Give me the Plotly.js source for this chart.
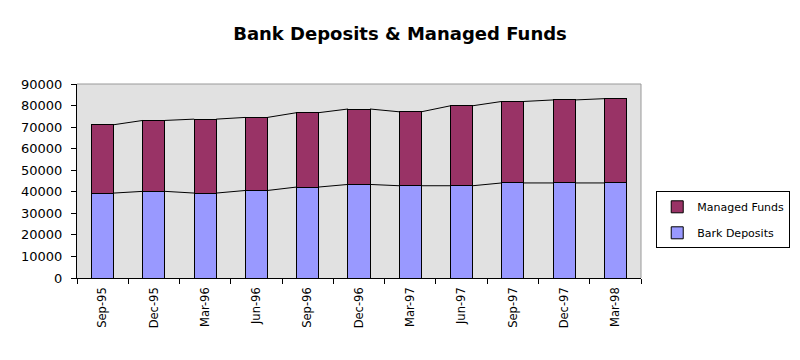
<!DOCTYPE html>
<html>
<head>
<meta charset="utf-8">
<script src="https://cdn.plot.ly/plotly-3.0.1.min.js"></script>
<style>html,body{margin:0;padding:0;background:#fff;}#chart{width:800px;height:360px;}</style>
</head>
<body>
<div id="chart"></div>
<script>
var categories = ["Sep-95","Dec-95","Mar-96","Jun-96","Sep-96","Dec-96","Mar-97","Jun-97","Sep-97","Dec-97","Mar-98"];
var bankDeposits = [39400, 40200, 39400, 40600, 42200, 43400, 42800, 42800, 44100, 44100, 44100];
var managedFunds = [31700, 32900, 34300, 33900, 34500, 35000, 34300, 37100, 37800, 38500, 39100];
var yTicks = [0,10000,20000,30000,40000,50000,60000,70000,80000,90000];

var barWidth = 0.43;
var idx = categories.map(function(_, i){ return i; });
var totals = bankDeposits.map(function(v, i){ return v + managedFunds[i]; });

function seriesLine(vals){
  var xs = [], ys = [];
  for (var i = 0; i < vals.length - 1; i++) {
    xs.push(i + barWidth/2, i + 1 - barWidth/2, null);
    ys.push(vals[i], vals[i+1], null);
  }
  return {x: xs, y: ys, type: 'scatter', mode: 'lines', line: {color: '#000', width: 1},
          showlegend: false, hoverinfo: 'skip', connectgaps: false};
}

var traces = [
  {x: idx, y: bankDeposits, type: 'bar', name: 'Bark Deposits', width: barWidth, legendgroup: 'b', legendrank: 2,
   marker: {color: '#9999FF', line: {color: '#000', width: 1}}},
  {x: idx, y: managedFunds, type: 'bar', name: 'Managed Funds', width: barWidth, legendgroup: 'm', legendrank: 1,
   marker: {color: '#993366', line: {color: '#000', width: 1}}},
  seriesLine(bankDeposits),
  seriesLine(totals),
  {x: [-0.5, 10.5], y: [null, null], xaxis: 'x2', type: 'scatter', mode: 'lines', showlegend: false, hoverinfo: 'skip'}
];

var boundaries = [];
for (var b = 0; b <= categories.length; b++) boundaries.push(b - 0.5);

var FONT = 'DejaVu Sans, Verdana, sans-serif';

var layout = {
  width: 800, height: 360,
  margin: {l: 77, r: 159, t: 84, b: 82, autoexpand: false},
  paper_bgcolor: '#fff',
  plot_bgcolor: '#E1E1E1',
  barmode: 'stack',
  font: {family: FONT, color: '#000', size: 11},
  title: {text: '<b>Bank Deposits &amp; Managed Funds</b>', x: 0.5, xanchor: 'center', y: 0.907, yanchor: 'middle',
          font: {family: FONT, size: 18, color: '#000'}},
  xaxis: {range: [-0.5, 10.5], tickvals: idx, ticktext: categories, tickangle: -90,
          ticks: '', showgrid: false, zeroline: false, showline: false,
          tickfont: {size: 11.5, family: FONT}, ticklabelstandoff: 6, fixedrange: true},
  xaxis2: {overlaying: 'x', matches: 'x', range: [-0.5, 10.5], tickvals: boundaries, ticks: 'outside', ticklen: 5,
           tickcolor: '#000', showticklabels: false, showgrid: false, zeroline: false,
           showline: true, linecolor: '#000', linewidth: 1, side: 'bottom', anchor: 'y'},
  yaxis: {range: [0, 90000], tickvals: yTicks, ticktext: yTicks.map(String), ticks: 'outside', ticklen: 5,
          tickcolor: '#000', showgrid: false, zeroline: false, showline: true, linecolor: '#000', linewidth: 1,
          tickfont: {size: 13, family: FONT}, ticklabelstandoff: 6, fixedrange: true},
  shapes: [
    {type: 'line', xref: 'paper', yref: 'paper', x0: 0, x1: 1, y0: 1, y1: 1, line: {color: '#999', width: 1}},
    {type: 'line', xref: 'paper', yref: 'paper', x0: 1, x1: 1, y0: 0, y1: 1, line: {color: '#999', width: 1}}
  ],
  legend: {x: 1.027, xanchor: 'left', y: 0.30, yanchor: 'middle', traceorder: 'grouped',
           bgcolor: '#fff', bordercolor: '#000', borderwidth: 1, font: {size: 11, family: FONT},
           itemwidth: 30, tracegroupgap: 7},
  showlegend: true
};

Plotly.newPlot('chart', traces, layout, {displayModeBar: false, staticPlot: true});
</script>
</body>
</html>
